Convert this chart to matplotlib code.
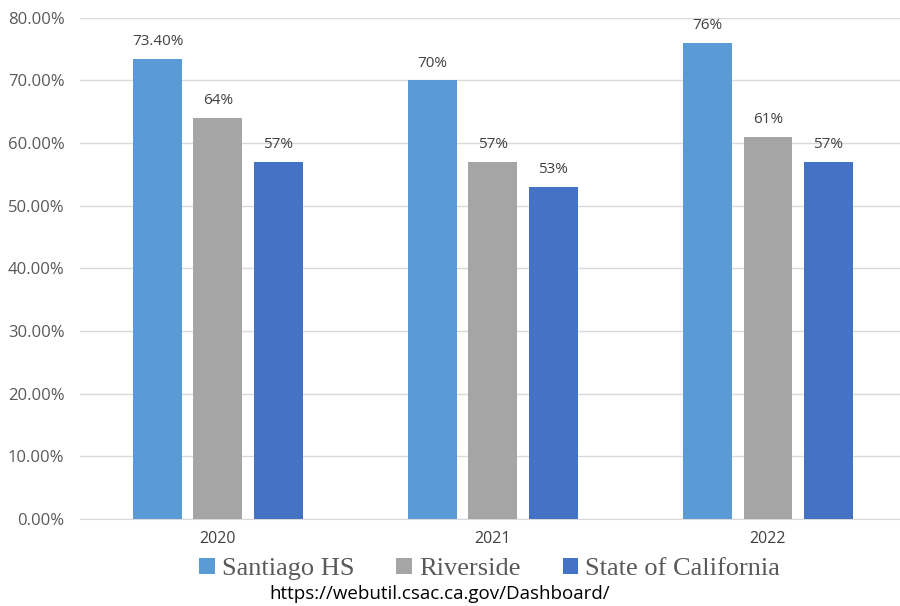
import matplotlib
matplotlib.use("Agg")
import matplotlib.pyplot as plt
import numpy as np
from matplotlib.ticker import FuncFormatter

years = ["2020", "2021", "2022"]
series_names = ["Santiago HS", "Riverside", "State of California"]
santiago = [73.4, 70, 76]
riverside = [64, 57, 61]
state = [57, 53, 57]
labels_santiago = ["73.40%", "70%", "76%"]
labels_riverside = ["64%", "57%", "61%"]
labels_state = ["57%", "53%", "57%"]
colors = ["#5B9BD5", "#A5A5A5", "#4472C4"]

fig = plt.figure(figsize=(9, 6.06), dpi=100)
ax = fig.add_axes([0.0894, 0.1436, 0.9167, 0.827])

x = np.arange(len(years))
width = 0.178
offset = 0.22
all_vals = [santiago, riverside, state]
all_labels = [labels_santiago, labels_riverside, labels_state]
for i, (vals, labs) in enumerate(zip(all_vals, all_labels)):
    bars = ax.bar(x + (i - 1) * offset, vals, width, color=colors[i], zorder=3, label=series_names[i])
    ax.bar_label(bars, labels=labs, padding=7, fontsize=11, color="#404040", family="Open Sans")

ax.set_xlim(-0.5, 2.5)
ax.set_ylim(0, 80)
ax.set_yticks(np.arange(0, 81, 10))
ax.yaxis.set_major_formatter(FuncFormatter(lambda v, p: f"{v:.2f}%"))
ax.set_xticks(x)
ax.set_xticklabels(years)
ax.grid(axis="y", color="#D9D9D9", linewidth=1, zorder=0)
for s in ["top", "right", "left"]:
    ax.spines[s].set_visible(False)
ax.spines["bottom"].set_color("#D9D9D9")
ax.tick_params(axis="y", length=0, labelsize=12, labelcolor="#595959", pad=11.5)
ax.tick_params(axis="x", length=0, labelsize=11.5, labelcolor="#404040", pad=9)
for t in ax.get_xticklabels() + ax.get_yticklabels():
    t.set_family("Open Sans")

leg = fig.legend(loc="center", bbox_to_anchor=(0.544, 0.061), ncol=3, frameon=False,
                 prop={"family": "Liberation Serif", "size": 19}, handlelength=0.6,
                 handleheight=0.6, handletextpad=0.25, columnspacing=1.6, labelcolor="#595959")

fig.text(0.488, 0.0198, "https://webutil.csac.ca.gov/Dashboard/", ha="center", va="center",
         fontsize=13.5, family="Open Sans", color="black")

fig.savefig("out.png", dpi=100)
